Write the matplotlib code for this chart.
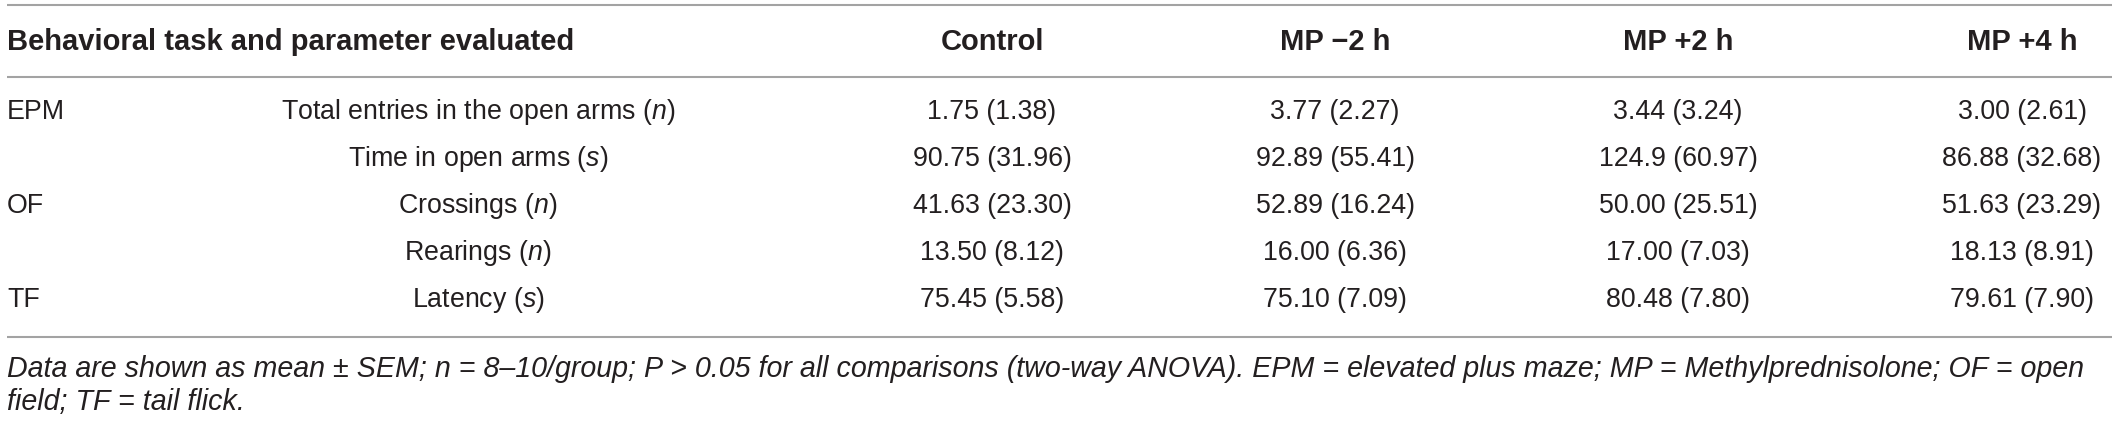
import matplotlib
matplotlib.use("Agg")
import matplotlib.pyplot as plt

plt.rcParams['font.family'] = ['Liberation Sans', 'DejaVu Sans']
plt.rcParams['mathtext.fontset'] = 'custom'
plt.rcParams['mathtext.rm'] = 'Liberation Sans'
plt.rcParams['mathtext.it'] = 'Liberation Sans:italic'

# table contents
header_label = "Behavioral task and parameter evaluated"
groups = ["Control", "MP \u22122 h", "MP +2 h", "MP +4 h"]
tasks = ["EPM", "", "OF", "", "TF"]
parameters = ["Total entries in the open arms ($\\mathit{n}$)",
              "Time in open arms ($\\mathit{s}$)",
              "Crossings ($\\mathit{n}$)",
              "Rearings ($\\mathit{n}$)",
              "Latency ($\\mathit{s}$)"]

control_mean = [1.75, 90.75, 41.63, 13.50, 75.45]
control_sem = [1.38, 31.96, 23.30, 8.12, 5.58]
mp_minus2_mean = [3.77, 92.89, 52.89, 16.00, 75.10]
mp_minus2_sem = [2.27, 55.41, 16.24, 6.36, 7.09]
mp_plus2_mean = [3.44, 124.9, 50.00, 17.00, 80.48]
mp_plus2_sem = [3.24, 60.97, 25.51, 7.03, 7.80]
mp_plus4_mean = [3.00, 86.88, 51.63, 18.13, 79.61]
mp_plus4_sem = [2.61, 32.68, 23.29, 8.91, 7.90]

footnote = ["Data are shown as mean \u00b1 SEM; n = 8\u201310/group; P > 0.05 for all comparisons (two-way ANOVA). "
            "EPM = elevated plus maze; MP = Methylprednisolone; OF = open",
            "field; TF = tail flick."]

means = [control_mean, mp_minus2_mean, mp_plus2_mean, mp_plus4_mean]
sems = [control_sem, mp_minus2_sem, mp_plus2_sem, mp_plus4_sem]


def fmt(v):
    # one decimal above 100, as printed in the source table
    return f"{v:.1f}" if v >= 100 else f"{v:.2f}"


W, H = 2119, 421
fig = plt.figure(figsize=(W / 100, H / 100), dpi=100)
ax = fig.add_axes([0, 0, 1, 1])
ax.set_xlim(0, W)
ax.set_ylim(H, 0)
ax.axis('off')

ink = '#231f20'
rule = '#a3a3a3'
body = 19.3
head = 21
note = 20.6

# layout (pixels)
x_task = 7
x_param = 478
x_cols = [992, 1335, 1678, 2022]
y_head = 42
y_rows = [112, 159, 206, 253, 300]

ax.hlines([5, 77, 337], 7, 2112, colors=rule, lw=1.5)

ax.text(x_task, y_head, header_label, fontsize=head, fontweight='bold',
        color=ink, ha='left', va='center')
for x, g in zip(x_cols, groups):
    ax.text(x, y_head, g, fontsize=head, fontweight='bold', color=ink,
            ha='center', va='center')

for i, y in enumerate(y_rows):
    ax.text(x_task, y, tasks[i], fontsize=body, color=ink, ha='left', va='center')
    ax.text(x_param, y, parameters[i], fontsize=body, color=ink,
            ha='center', va='center')
    for x, m, s in zip(x_cols, means, sems):
        ax.text(x, y, f"{fmt(m[i])} ({fmt(s[i])})", fontsize=body, color=ink,
                ha='center', va='center')

for y, line in zip([377, 410], footnote):
    ax.text(x_task, y, line, fontsize=note, style='italic', color=ink,
            ha='left', va='baseline')

fig.savefig('out.png', dpi=100)
